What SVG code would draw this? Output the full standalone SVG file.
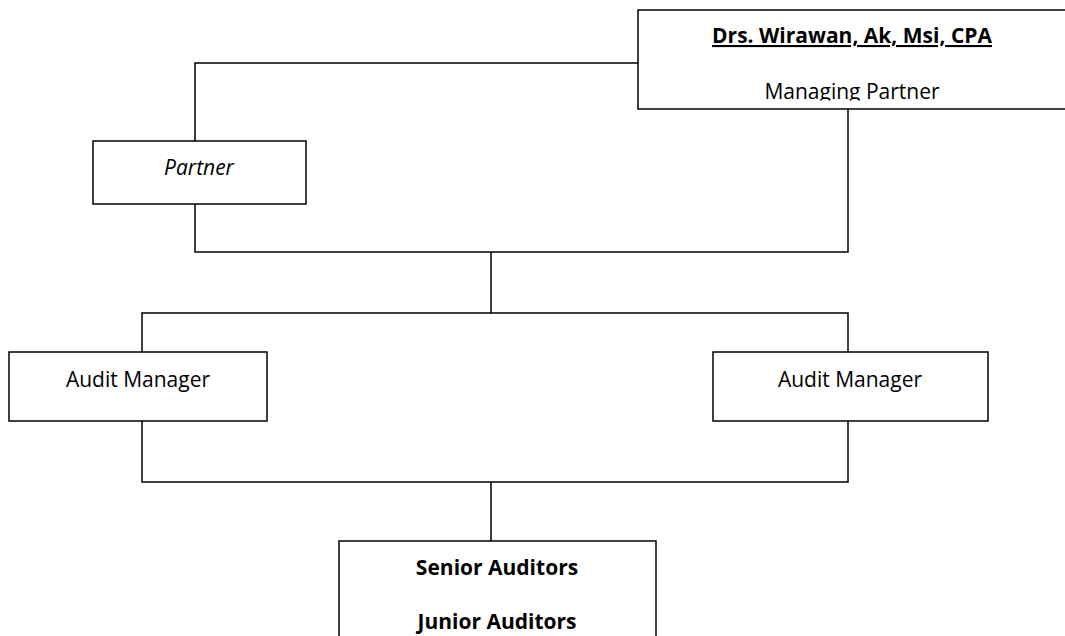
<svg xmlns="http://www.w3.org/2000/svg" width="1065" height="636" viewBox="0 0 1065 636">
<style>
.box{fill:#fff;stroke:#000;stroke-width:1.5}
.ln{fill:none;stroke:#000;stroke-width:1.5}
text{font-family:"Open Sans","Liberation Sans",sans-serif;font-size:21px;fill:#000;text-anchor:middle}
.b{font-weight:bold}
.i{font-style:italic}
.u{text-decoration:underline}
</style>
<defs>
<clipPath id="c1"><rect x="638" y="10" width="440" height="90.5"/></clipPath>
</defs>
<rect width="1065" height="636" fill="#fff"/>
<g id="connectors">
<polyline class="ln" points="638,63 195,63 195,141"/>
<polyline class="ln" points="195,204 195,252 848,252 848,109"/>
<line class="ln" x1="491" y1="252" x2="491" y2="313"/>
<polyline class="ln" points="142,352 142,313 848,313 848,352"/>
<polyline class="ln" points="142,421 142,482 848,482 848,421"/>
<line class="ln" x1="491" y1="482" x2="491" y2="541"/>
</g>
<g id="managing-partner">
<rect class="box" x="638" y="10" width="440" height="99"/>
<g clip-path="url(#c1)">
<text class="b u" x="852" y="43">Drs. Wirawan, Ak, Msi, CPA</text>
<text x="852" y="99">Managing Partner</text>
</g>
</g>
<g id="partner">
<rect class="box" x="93" y="141" width="213" height="63"/>
<text class="i" x="199" y="175">Partner</text>
</g>
<g id="audit-manager-1">
<rect class="box" x="9" y="352" width="258" height="69"/>
<text x="138" y="387">Audit Manager</text>
</g>
<g id="audit-manager-2">
<rect class="box" x="713" y="352" width="275" height="69"/>
<text x="850" y="387">Audit Manager</text>
</g>
<g id="auditors">
<rect class="box" x="339" y="541" width="317" height="110"/>
<text class="b" x="497" y="575">Senior Auditors</text>
<text class="b" x="497" y="629">Junior Auditors</text>
</g>
</svg>
